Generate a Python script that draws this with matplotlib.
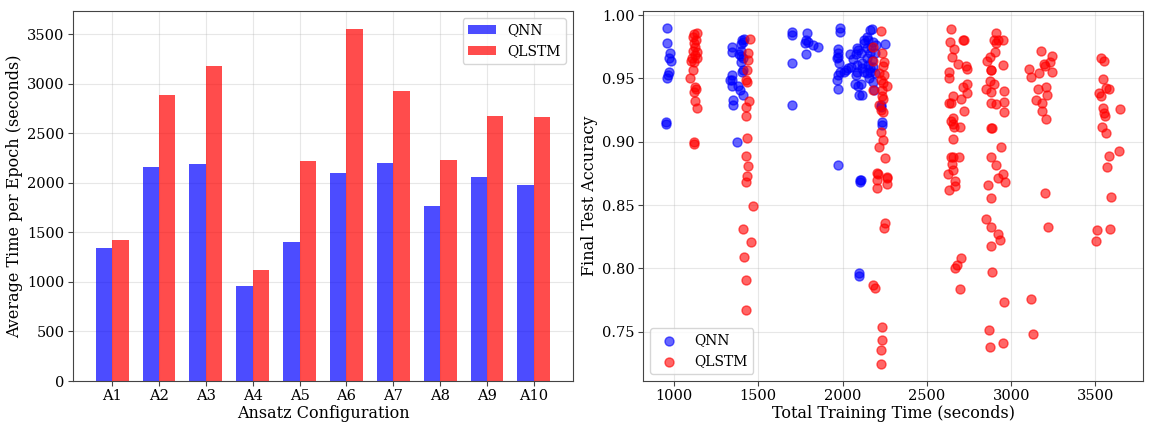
import matplotlib
matplotlib.use("Agg")
import matplotlib.pyplot as plt
import numpy as np

# Per-ansatz average epoch time (seconds)
ansatz_labels = ["A1", "A2", "A3", "A4", "A5", "A6", "A7", "A8", "A9", "A10"]
qnn_epoch_time = [1346, 2157, 2188, 959, 1400, 2097, 2198, 1767, 2063, 1976]
qlstm_epoch_time = [1427, 2885, 3181, 1117, 2221, 3558, 2925, 2228, 2679, 2662]

# Individual runs: total training time (s) and final test accuracy
qnn_time = [
    957, 960, 976, 970, 982, 969, 964, 957, 951, 951,
    1415, 1401, 1395, 1342, 1342, 1395, 1387, 1407, 1397, 1411, 1403, 1342,
    1346, 1332, 1342, 1381, 1391, 1407, 1352, 1352, 1375, 1408, 1398,
    1702, 1702, 1698, 1698, 1787, 1781, 1777, 1797, 1822, 1856, 1781,
    1984, 1984, 1971, 1974, 1974, 1965, 1980, 1984, 1974, 1965, 1974, 2020,
    2043, 2048, 2063, 2083, 2093, 2079, 2083, 2083, 2079, 2073, 2093, 2099,
    1974, 2103, 2103, 2127, 2113, 2097, 2097, 2008, 2035,
    2162, 2172, 2142, 2152, 2127, 2182, 2251, 2198, 2142, 2162, 2192, 2109,
    2142, 2172, 2152, 2182, 2162, 2192, 2142, 2157, 2182, 2109, 2186, 2113,
    2226, 2226, 2231, 2231, 2107, 2118, 2125, 2170, 2160,
]
qnn_acc = [
    0.990, 0.978, 0.970, 0.966, 0.964, 0.955, 0.953, 0.950, 0.916, 0.914,
    0.981, 0.980, 0.977, 0.975, 0.971, 0.972, 0.969, 0.966, 0.963, 0.957, 0.955, 0.953,
    0.949, 0.949, 0.944, 0.944, 0.941, 0.937, 0.933, 0.929, 0.900, 0.979, 0.968,
    0.9865, 0.984, 0.962, 0.929, 0.986, 0.980, 0.978, 0.979, 0.9765, 0.9746, 0.969,
    0.990, 0.987, 0.973, 0.970, 0.967, 0.966, 0.962, 0.955, 0.953, 0.949, 0.942, 0.957,
    0.969, 0.959, 0.965, 0.974, 0.9725, 0.969, 0.961, 0.955, 0.953, 0.946, 0.944, 0.937,
    0.882, 0.870, 0.8685, 0.980, 0.958, 0.7966, 0.794, 0.955, 0.958,
    0.988, 0.989, 0.983, 0.980, 0.978, 0.979, 0.977, 0.9765, 0.974, 0.970, 0.970, 0.970,
    0.966, 0.9646, 0.9607, 0.9593, 0.955, 0.954, 0.954, 0.950, 0.9475, 0.946, 0.941, 0.937,
    0.929, 0.9277, 0.916, 0.9133, 0.870, 0.962, 0.955, 0.975, 0.958,
]

qlstm_time = [
    1120, 1135, 1115, 1130, 1118, 1126, 1115, 1135, 1124, 1105, 1135, 1120,
    1099, 1113, 1093, 1124, 1130, 1120, 1122, 1136, 1117, 1117,
    1451, 1441, 1441, 1431, 1427, 1431, 1444, 1427, 1427, 1431, 1427, 1436,
    1431, 1427, 1467, 1407, 1456, 1417, 1429, 1429,
    2227, 2178, 2235, 2182, 2244, 2240, 2216, 2244, 2226, 2238, 2261, 2182,
    2231, 2231, 2240, 2216, 2226, 2240, 2226, 2240, 2216, 2251, 2202, 2211,
    2202, 2261, 2266, 2261, 2202, 2251, 2244, 2182, 2192, 2231, 2231, 2226, 2226,
    2641, 2712, 2721, 2637, 2660, 2650, 2682, 2730, 2736, 2632, 2630, 2736,
    2716, 2736, 2656, 2700, 2632, 2646, 2720, 2653, 2646, 2653, 2662, 2696,
    2656, 2646, 2656, 2692, 2650, 2653, 2623, 2666, 2666, 2630, 2702, 2680, 2665, 2698,
    2908, 2899, 2923, 2953, 2910, 2904, 2874, 2854, 2949, 2878, 2880, 2874,
    2898, 2850, 2883, 2957, 2878, 2910, 2957, 2959, 2880, 2884, 2942, 2883,
    2910, 2949, 2923, 2963, 2864, 2883, 2850, 2878, 2923, 2933, 2883, 2887,
    2957, 2867, 2877, 2954,
    3176, 3243, 3229, 3193, 3199, 3107, 3243, 3166, 3115, 3204, 3160, 3212,
    3150, 3180, 3184, 3206, 3200, 3220, 3115, 3128,
    3532, 3550, 3546, 3562, 3580, 3522, 3530, 3546, 3552, 3556, 3645, 3541,
    3565, 3641, 3580, 3570, 3594, 3508, 3589, 3504,
]
qlstm_acc = [
    0.985, 0.9857, 0.9825, 0.980, 0.978, 0.975, 0.972, 0.971, 0.9686, 0.966, 0.966, 0.963,
    0.964, 0.9567, 0.950, 0.943, 0.9415, 0.939, 0.9325, 0.927, 0.8996, 0.898,
    0.981, 0.970, 0.9646, 0.9567, 0.9488, 0.9475, 0.9325, 0.9277, 0.920, 0.9028, 0.8888, 0.881,
    0.873, 0.868, 0.8495, 0.831, 0.8206, 0.8088, 0.791, 0.767,
    0.9878, 0.9746, 0.970, 0.964, 0.9633, 0.960, 0.954, 0.9528, 0.949, 0.9467, 0.944, 0.941,
    0.941, 0.936, 0.9336, 0.929, 0.925, 0.9238, 0.908, 0.9014, 0.8957, 0.887, 0.875, 0.8746,
    0.870, 0.8724, 0.8712, 0.8667, 0.8633, 0.836, 0.832, 0.787, 0.7843, 0.754, 0.743, 0.7355, 0.7245,
    0.9889, 0.9804, 0.9804, 0.9786, 0.973, 0.967, 0.9615, 0.960, 0.9575, 0.9554, 0.9506, 0.946,
    0.943, 0.9383, 0.936, 0.9336, 0.931, 0.931, 0.9246, 0.919, 0.9164, 0.9138, 0.912, 0.9114,
    0.902, 0.8882, 0.8878, 0.8878, 0.8825, 0.8777, 0.8743, 0.8693, 0.865, 0.862, 0.8082, 0.803, 0.800, 0.7837,
    0.9857, 0.980, 0.980, 0.9804, 0.978, 0.971, 0.967, 0.9638, 0.9607, 0.957, 0.957, 0.948,
    0.9457, 0.9415, 0.9396, 0.9404, 0.931, 0.9296, 0.9317, 0.9238, 0.9107, 0.911, 0.8961, 0.8882,
    0.8817, 0.8746, 0.8712, 0.8685, 0.8659, 0.8554, 0.8388, 0.833, 0.827, 0.8224, 0.8177, 0.7972,
    0.7737, 0.7516, 0.7382, 0.7413,
    0.9717, 0.968, 0.9628, 0.9612, 0.960, 0.9575, 0.9554, 0.954, 0.951, 0.9435, 0.942, 0.937,
    0.933, 0.931, 0.9246, 0.918, 0.8598, 0.8325, 0.776, 0.7482,
    0.9664, 0.9638, 0.9496, 0.9422, 0.9415, 0.9383, 0.9364, 0.9265, 0.9225, 0.920, 0.9257, 0.912,
    0.9067, 0.893, 0.889, 0.8798, 0.8566, 0.8306, 0.8314, 0.8216,
]

plt.rcParams["font.family"] = "serif"
plt.rcParams["font.serif"] = ["DejaVu Serif"]

LABEL_FS = 11.5
TICK_FS = 10.5
LEGEND_FS = 10
SPINE_COLOR = "#444444"

fig = plt.figure(figsize=(11.51, 4.23), dpi=100)
ax1 = fig.add_axes([73 / 1151, 42 / 423, 500 / 1151, 370 / 423])
ax2 = fig.add_axes([643 / 1151, 42 / 423, 500 / 1151, 370 / 423])

# Left: grouped bars of per-epoch time
x = np.arange(len(ansatz_labels))
width = 0.35
ax1.bar(x - width / 2, qnn_epoch_time, width, color="blue", alpha=0.7, label="QNN")
ax1.bar(x + width / 2, qlstm_epoch_time, width, color="red", alpha=0.7, label="QLSTM")
ax1.set_xticks(x)
ax1.set_xticklabels(ansatz_labels)
ax1.set_xlabel("Ansatz Configuration", fontsize=LABEL_FS, labelpad=1)
ax1.set_ylabel("Average Time per Epoch (seconds)", fontsize=LABEL_FS, labelpad=3)
ax1.set_axisbelow(True)
ax1.grid(True, alpha=0.3)
ax1.legend(fontsize=LEGEND_FS, loc="upper right")

# Right: accuracy versus total training time
ax2.scatter(qnn_time, qnn_acc, s=42, color="blue", alpha=0.6, label="QNN")
ax2.scatter(qlstm_time, qlstm_acc, s=42, color="red", alpha=0.6, label="QLSTM")
ax2.set_xlim(816, 3782)
ax2.set_ylim(0.711, 1.0033)
ax2.set_xlabel("Total Training Time (seconds)", fontsize=LABEL_FS, labelpad=1)
ax2.set_ylabel("Final Test Accuracy", fontsize=LABEL_FS, labelpad=3)
ax2.set_axisbelow(True)
ax2.grid(True, alpha=0.3)
ax2.legend(fontsize=LEGEND_FS, loc="lower left")

for ax in (ax1, ax2):
    ax.tick_params(labelsize=TICK_FS, color=SPINE_COLOR, pad=2.5)
    for sp in ax.spines.values():
        sp.set_color(SPINE_COLOR)

fig.savefig("out.png", dpi=100)
